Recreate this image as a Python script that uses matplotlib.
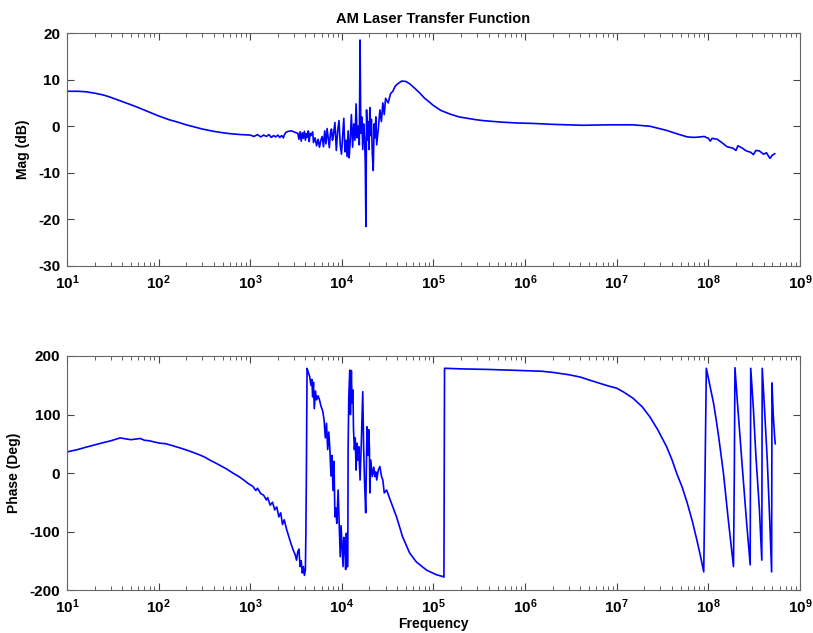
import matplotlib
matplotlib.use("Agg")
import matplotlib.pyplot as plt
import numpy as np
from matplotlib.ticker import LogLocator, FixedLocator

plt.rcParams['font.family'] = ['Liberation Sans', 'DejaVu Sans']
plt.rcParams['font.weight'] = 'bold'
plt.rcParams['mathtext.fontset'] = 'custom'
plt.rcParams['mathtext.rm'] = 'Liberation Sans:bold'
plt.rcParams['mathtext.bf'] = 'Liberation Sans:bold'
plt.rcParams['mathtext.default'] = 'bf'
plt.rcParams['axes.unicode_minus'] = False

# magnitude (dB)
mag_freq = [10, 13, 16, 20, 25, 30, 40, 50, 60, 80, 100, 130, 160, 200, 250, 300, 400, 500, 600, 800,
            1000, 1100, 1200, 1300, 1400, 1500, 1600, 1700, 1800, 1900, 2000, 2100, 2200, 2300, 2350,
            2450, 2600, 2800, 3000, 3150,
            3300, 3400, 3500, 3600, 3700, 3800, 3900, 4000, 4100, 4200, 4300, 4400, 4500, 4600, 4800,
            4900, 5100, 5300, 5500, 5700, 5900, 6100, 6300, 6500, 6700, 6900, 7100, 7300, 7500, 7700,
            7900, 8100, 8400, 8700, 9000, 9300, 9600, 9900, 10200, 10500, 10800, 11100, 11400, 11700,
            12000, 12300, 12700, 13100, 13500, 13900, 14300, 14700, 15100, 15500, 15800, 16100, 16500,
            16900, 17300, 17700, 18000, 18300, 18600, 19000, 19400, 19800, 20200, 20600, 21000, 21500,
            22000, 22500, 23000, 23500, 24000, 25000, 26000, 27000, 28000, 29000, 30000, 32000, 34000,
            36000, 38000, 40000, 45000,
            50000, 55000, 62000, 71000, 80000, 90000, 99000, 110000, 120000, 135000, 152000, 170000,
            190000, 233000, 290000, 350000, 430000, 533000,
            800000, 1.22e6, 2e6, 4.3e6, 8e6, 1.5e7, 2.3e7, 3.5e7, 4.5e7, 5.9e7, 7e7, 8.1e7, 9e7, 1.0e8,
            1.05e8, 1.1e8, 1.25e8, 1.4e8, 1.6e8, 1.85e8, 2.0e8, 2.1e8, 2.3e8, 2.6e8, 2.9e8, 3.1e8,
            3.3e8, 3.6e8, 4.0e8, 4.3e8, 4.7e8, 5.0e8, 5.3e8]
mag_db = [7.5, 7.5, 7.4, 7.1, 6.7, 6.2, 5.3, 4.6, 4.0, 3.0, 2.2, 1.4, 0.9, 0.3, -0.2, -0.6, -1.1, -1.4, -1.6, -1.8,
          -1.9, -2.2, -1.8, -2.3, -1.9, -2.2, -1.8, -2.4, -2.0, -2.3, -1.9, -2.4, -2.0, -2.5, -1.9,
          -1.3, -1.1, -1.0, -1.2, -1.4,
          -1.5, -2.8, -1.2, -3.2, -1.4, -2.6, -1.1, -3.0, -1.6, -2.4, -1.0, -3.3, -1.5, -2.0, -1.2,
          -3.5, -2.5, -4.2, -2.8, -4.5, -3.0, -2.2, -4.4, -1.0, -3.8, -0.5, -2.5, -4.6, -1.5, -0.6,
          -3.0, -1.8, 0.8, -5.2, -1.0, 1.2, -4.0, -6.0, -2.0, 1.7, -5.5, -3.0, -6.5, -1.0,
          -6.8, -3.5, 2.5, -4.5, 0.5, -3.0, 4.8, -2.5, 0.0, -4.0, 18.5, -1.5, 2.0,
          -5.0, 0.5, -2.5, -8.0, -21.5, 3.5, -3.0, 1.0, -5.0, 4.0, -2.0, 1.5, -6.0,
          -9.5, 0.5, -2.5, 2.0, -4.0, -0.5, 3.5, 1.0, 5.0, 2.5, 6.0, 5.0, 7.0,
          7.5, 8.5, 9.0, 9.7,
          9.6, 9.1, 8.2, 7.1, 6.0, 5.2, 4.5, 3.9, 3.4, 3.0, 2.6, 2.3,
          2.0, 1.7, 1.4, 1.2, 1.05, 0.9,
          0.7, 0.6, 0.4, 0.2, 0.3, 0.3, 0.0, -0.9, -1.6, -2.3, -2.4, -2.3, -2.2, -2.6,
          -3.2, -2.6, -2.8, -3.5, -4.4, -4.7, -5.2, -4.2, -4.6, -5.3, -5.6, -6.1,
          -5.2, -5.3, -6.0, -5.7, -6.9, -6.2, -5.9]

# phase (deg)
ph_freq = [10, 13, 16, 20, 25, 30, 38, 45, 50, 63, 70, 80, 90, 103, 120, 140, 170, 204, 240, 280, 320,
           363, 420, 480, 550, 646, 750, 850, 950, 1070, 1150, 1200, 1300, 1400, 1500, 1550, 1650,
           1750, 1850, 1950, 2050, 2150, 2250, 2350, 2500, 2650, 2800, 2950, 3100, 3200, 3300, 3400,
           3500, 3600, 3700, 3800, 3900, 4000, 4050, 4100, 4170, 4300, 4450, 4600, 4700, 4800, 4900,
           5000, 5150, 5300, 5500, 5700, 5900, 6200, 6400, 6600, 6800, 7000, 7200, 7400, 7600, 7800,
           8000, 8200, 8400, 8600, 8800, 9100, 9300, 9600, 9800, 10000, 10300, 10500, 10800, 11000,
           11200, 11400, 11600, 11700, 11900, 12200, 12400, 12700, 12900, 13200, 13400, 13700, 14000,
           14300, 14600, 14900, 15300, 15800, 16300, 16900, 17300, 17700, 18200, 18800, 19200, 19700,
           20000, 20200, 20700, 21500, 22300, 22900, 23500, 24000, 25000, 26000, 27000, 28000, 29000,
           30800, 33700, 39500, 46000, 55000, 65000, 84000, 108000, 127000, 130000, 131000, 132000,
           200000, 400000, 1e6, 1.5e6, 2e6, 3e6, 4e6, 5e6, 6.6e6, 8e6, 1e7, 1.2e7, 1.5e7, 1.9e7,
           2.3e7, 2.8e7, 3.5e7, 4e7, 4.5e7, 5.2e7, 5.9e7, 6.7e7, 7.5e7, 8.2e7, 8.9e7,
           9.2e7, 9.5e7, 1.0e8, 1.07e8, 1.14e8, 1.22e8, 1.3e8, 1.46e8, 1.65e8, 1.88e8, 1.92e8, 1.95e8,
           2.1e8, 2.32e8, 2.6e8, 2.86e8, 2.88e8, 2.9e8, 3.1e8, 3.3e8, 3.6e8, 3.83e8, 3.85e8, 3.87e8,
           4.1e8, 4.4e8, 4.7e8, 4.9e8, 4.92e8, 4.95e8, 5.1e8, 5.3e8, 5.37e8]
ph_deg = [36, 40, 44, 48, 52, 55, 60, 58, 57, 59, 56, 55, 53, 51, 50, 47, 43, 39, 35, 31, 27,
          22, 17, 12, 7, 0, -6, -12, -18, -23, -30, -26, -35, -38, -46, -42, -55,
          -50, -63, -58, -75, -68, -88, -80, -97, -110, -122, -132, -140, -149, -135, -130,
          -160, -150, -171, -160, -175, -165, -100, 0, 179, 172, 165, 150, 160, 130, 155,
          110, 140, 125, 132, 125, 115, 105, 90, 60, 85, 40, 70, 40, -5, 30,
          -30, 20, -75, -60, -86, -29, -75, -143, -90, -120, -160, -110, -130, -165,
          -103, -160, -160, 40, 130, 176, 100, 175, 120, 142, 74, 40, 60,
          5, 51, 22, 45, -12, 51, 139, 40, -17, -68, 79, 30, 74,
          40, -34, 22, -6, 10, -6, 2, -12, 5, 11, -5, -12, -34,
          -29, -46, -75, -109, -137, -152, -166, -174, -177, -178, 0, 179,
          178, 177, 175, 174, 172, 168, 164, 159, 153, 149, 145, 138, 128, 113,
          96, 74, 45, 23, 0, -25, -52, -83, -115, -142, -169,
          0, 179, 162, 140, 119, 90, 60, 0, -80, -160, 0, 180,
          110, 20, -80, -157, 0, 179, 110, 30, -60, -149, 0, 179,
          110, 20, -90, -169, 0, 154, 100, 60, 50]

fig = plt.figure(figsize=(8.13, 6.33), dpi=100)
ax1 = fig.add_axes([0.0824, 0.5798, 0.9016, 0.368])
ax2 = fig.add_axes([0.0824, 0.0679, 0.9016, 0.3697])

line_col = (0, 0, 1)
ax1.semilogx(mag_freq, mag_db, color=line_col, lw=1.2)
ax2.semilogx(ph_freq, ph_deg, color=line_col, lw=1.2)

ax1.set_ylim(-30, 20)
ax1.set_yticks([-30, -20, -10, 0, 10, 20])
ax2.set_ylim(-200, 200)
ax2.set_yticks([-200, -100, 0, 100, 200])

for ax in (ax1, ax2):
    ax.set_xlim(10, 1e9)
    ax.xaxis.set_major_locator(FixedLocator([10.0**k for k in range(1, 10)]))
    ax.xaxis.set_minor_locator(LogLocator(base=10, subs=np.arange(2, 10), numticks=20))
    ax.set_xticklabels([r'$10^{%d}$' % k for k in range(1, 10)])
    ax.tick_params(which='both', direction='in', top=True, right=True, labelsize=11, colors='#444444',
                   labelcolor='black')
    ax.tick_params(which='major', length=5, pad=5)
    ax.tick_params(which='minor', length=3)
    for s in ax.spines.values():
        s.set_color('#666666')
    for lab in ax.get_yticklabels():
        lab.set_fontweight('bold')

ax1.set_ylabel('Mag (dB)', fontsize=10, fontweight='bold', labelpad=6)
ax1.set_title('AM Laser Transfer Function', fontsize=10.5, fontweight='bold', pad=7)
ax2.set_ylabel('Phase (Deg)', fontsize=10, fontweight='bold', labelpad=6)
ax2.set_xlabel('Frequency', fontsize=10, fontweight='bold', labelpad=1)

fig.savefig('out.png', dpi=100)
